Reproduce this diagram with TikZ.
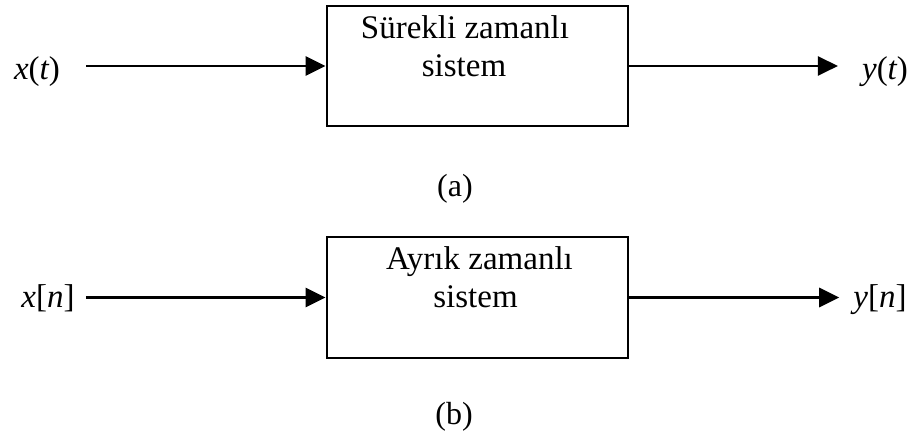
\documentclass[tikz,border=0pt]{standalone}
\usepackage{fontspec}
\setmainfont{Liberation Serif}
\usetikzlibrary{arrows.meta}
\begin{document}
\begin{tikzpicture}[x=1pt,y=1pt,
  sysbox/.style={draw, line width=2.8pt, minimum width=301pt, minimum height=120pt, inner sep=0pt},
  boxtext/.style={align=center, inner sep=0pt, font=\fontsize{33}{38}\selectfont, anchor=base},
  sig/.style={inner sep=0pt, font=\fontsize{33}{38}\selectfont\itshape, anchor=base},
  captext/.style={inner sep=0pt, font=\fontsize{32}{36}\selectfont, anchor=base},
  arr/.style={line width=2.8pt, -{Triangle[length=20pt,width=19pt]}}]
\useasboundingbox (0,0) rectangle (916,434);
% (a)
\node[sysbox] (boxa) at (477.5,368) {};
\node[boxtext] (ta1) at (465,395) {Sürekli zamanlı};
\node[boxtext] (ta2) at (464,357) {sistem};
\node[sig] (xa) at (37,354) {x\upshape(\itshape t\upshape)};
\node[sig] (ya) at (885,354) {y\upshape(\itshape t\upshape)};
\node[captext] (capa) at (455,237) {(a)};
\draw[arr, shorten <=26pt] (boxa.west -| xa.east) -- (boxa.west);
\draw[arr, shorten >=24pt] (boxa.east) -- (boxa.east -| ya.west);
% (b)
\node[sysbox, minimum height=121pt] (boxb) at (477.5,136.5) {};
\node[boxtext] (tb1) at (479.5,164) {Ayrık zamanlı};
\node[boxtext] (tb2) at (475.5,126) {sistem};
\node[sig] (xb) at (48,126) {x\upshape[\itshape n\upshape]};
\node[sig] (yb) at (880,126) {y\upshape[\itshape n\upshape]};
\node[captext] (capb) at (454,10) {(b)};
\draw[arr, shorten <=11pt] (boxb.west -| xb.east) -- (boxb.west);
\draw[arr, shorten >=14pt] (boxb.east) -- (boxb.east -| yb.west);
\end{tikzpicture}
\end{document}
